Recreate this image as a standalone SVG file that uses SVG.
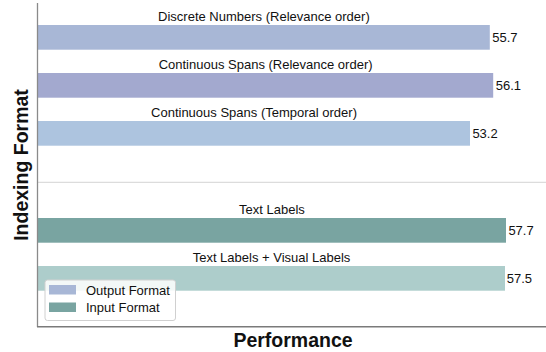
<svg xmlns="http://www.w3.org/2000/svg" width="546" height="352" viewBox="0 0 546 352">
<style>
text{font-family:"Liberation Sans",Arial,sans-serif;fill:#111}
.cat{font-size:13px;text-anchor:middle}
.val{font-size:13px}
.axl{font-size:19.5px;font-weight:bold;text-anchor:middle}
.leg{font-size:13px}
</style>
<rect width="546" height="352" fill="#fff"/>
<g id="separator">
<line x1="38" y1="182.3" x2="546" y2="182.3" stroke="#dcdcdc" stroke-width="1.2"/>
</g>
<g id="bar-discrete">
<rect x="38" y="25" width="451.8" height="24.7" fill="#a8b7d6"/>
<text class="cat" x="263.9" y="20.5">Discrete Numbers (Relevance order)</text>
<text class="val" x="492.3" y="42">55.7</text>
</g>
<g id="bar-cont-rel">
<rect x="38" y="73" width="455.2" height="24.7" fill="#a3a9cf"/>
<text class="cat" x="265.6" y="68.5">Continuous Spans (Relevance order)</text>
<text class="val" x="495.7" y="90">56.1</text>
</g>
<g id="bar-cont-temp">
<rect x="38" y="121" width="432" height="24.7" fill="#adc4df"/>
<text class="cat" x="254" y="116.5">Continuous Spans (Temporal order)</text>
<text class="val" x="472.4" y="138">53.2</text>
</g>
<g id="bar-text">
<rect x="38" y="218" width="468" height="24.7" fill="#79a4a1"/>
<text class="cat" x="272" y="213.5">Text Labels</text>
<text class="val" x="508.4" y="235">57.7</text>
</g>
<g id="bar-text-visual">
<rect x="38" y="266" width="467" height="24.7" fill="#adcdcb"/>
<text class="cat" x="271.5" y="261.5">Text Labels + Visual Labels</text>
<text class="val" x="506.8" y="283">57.5</text>
</g>
<g id="axes">
<line x1="37.5" y1="3" x2="37.5" y2="327" stroke="#8a8a8a" stroke-width="1.3"/>
<line x1="37" y1="326.8" x2="546" y2="326.8" stroke="#7a7a7a" stroke-width="1.4"/>
<text class="axl" x="293" y="346.5">Performance</text>
<text class="axl" transform="translate(28,165) rotate(-90)">Indexing Format</text>
</g>
<g id="legend">
<rect x="45" y="280" width="130.5" height="40.5" rx="2.5" fill="#fff" fill-opacity="0.85" stroke="#d0d0d0" stroke-width="1"/>
<rect x="49" y="285" width="27" height="9.5" fill="#a8b7d6"/>
<text class="leg" x="86" y="294.5">Output Format</text>
<rect x="49" y="302.5" width="27" height="9.5" fill="#79a4a1"/>
<text class="leg" x="86" y="312">Input Format</text>
</g>
</svg>
